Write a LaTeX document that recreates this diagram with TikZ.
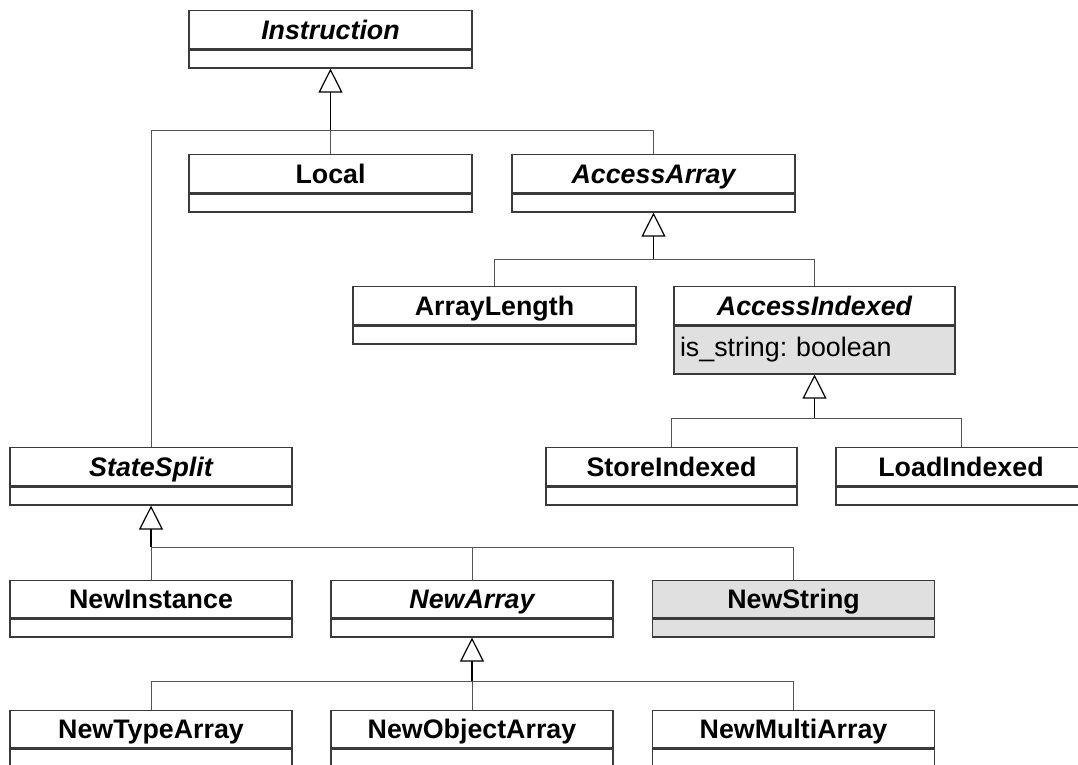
\documentclass[tikz,border=0pt]{standalone}
\usepackage{fontspec}
\setmainfont{Liberation Sans}
\usetikzlibrary{positioning,arrows.meta}
\definecolor{boxline}{HTML}{3A3A3A}
\definecolor{boxgray}{HTML}{E0E0E0}
\definecolor{wire}{HTML}{555555}
\begin{document}
\begin{tikzpicture}[x=1pt,y=-1pt,
  cls/.style={draw=boxline,line width=1.3pt,fill=white,anchor=north,inner sep=0pt,
    text height=19pt,text depth=0pt,
    minimum width=283pt,minimum height=38pt,font=\fontsize{26.8}{30}\selectfont\bfseries},
  abs/.style={cls,font=\fontsize{26.8}{30}\selectfont\bfseries\itshape},
  comp/.style={draw=boxline,line width=1.3pt,fill=white,inner sep=0pt,
    minimum width=283pt,minimum height=18pt},
  branch/.style={draw=wire,line width=1pt},
  inh/.style={draw=black,line width=1.2pt,-{Triangle[open,length=24pt,width=24pt]}}]
\useasboundingbox (0,0) rectangle (1078,764);
\clip (0,0) rectangle (1078,764);

% classes
\node(instr) at (330.5,10)[abs]                              {Instruction};
\node(instr-a)[comp,below=0pt of instr]                     {};
\node(local) at (330.5,154)[cls]                             {Local};
\node(local-a)[comp,below=0pt of local]                     {};
\node(accarr) at (653.5,154)[abs]                            {AccessArray};
\node(accarr-a)[comp,below=0pt of accarr]                   {};
\node(arrlen) at (494.5,286)[cls]                            {ArrayLength};
\node(arrlen-a)[comp,below=0pt of arrlen]                   {};
\node(accidx) at (814.5,286)[abs,minimum width=281pt]        {AccessIndexed};
\node(accidx-a)[comp,below=0pt of accidx,fill=boxgray,minimum width=281pt,minimum height=48pt,
  text width=269pt,inner sep=6pt,align=left,font=\fontsize{26.8}{30}\selectfont\frenchspacing] {is\_string: boolean};
\node(statesplit) at (151,447)[abs,minimum width=282pt]      {StateSplit};
\node(statesplit-a)[comp,below=0pt of statesplit,minimum width=282pt] {};
\node(storeidx) at (671.5,447)[cls,minimum width=251pt]      {StoreIndexed};
\node(storeidx-a)[comp,below=0pt of storeidx,minimum width=251pt] {};
\node(loadidx) at (961,447)[cls,minimum width=250pt]         {LoadIndexed};
\node(loadidx-a)[comp,below=0pt of loadidx,minimum width=250pt] {};
\node(newinst) at (151,580)[cls,minimum width=282pt,minimum height=37pt] {NewInstance};
\node(newinst-a)[comp,below=0pt of newinst,minimum width=282pt] {};
\node(newarr) at (472,580)[abs,minimum width=282pt,minimum height=37pt]  {NewArray};
\node(newarr-a)[comp,below=0pt of newarr,minimum width=282pt] {};
\node(newstr) at (793.5,580)[cls,fill=boxgray,minimum width=282pt,minimum height=37pt] {NewString};
\node(newstr-a)[comp,below=0pt of newstr,fill=boxgray,minimum width=282pt] {};
\node(newtype) at (151,710)[cls,minimum width=282pt,minimum height=37pt] {NewTypeArray};
\node(newtype-a)[comp,below=0pt of newtype,minimum width=282pt,minimum height=30pt] {};
\node(newobj) at (472,710)[cls,minimum width=282pt,minimum height=37pt]  {NewObjectArray};
\node(newobj-a)[comp,below=0pt of newobj,minimum width=282pt,minimum height=30pt] {};
\node(newmulti) at (793.5,710)[cls,minimum width=282pt,minimum height=37pt] {NewMultiArray};
\node(newmulti-a)[comp,below=0pt of newmulti,minimum width=282pt,minimum height=30pt] {};

% junctions
\coordinate(j1) at (330.5,130);
\coordinate(j2) at (653.5,259);
\coordinate(j3) at (814.5,418);
\coordinate(j4) at (151,547);
\coordinate(j5) at (472,681);

% generalisations
\path[branch] (statesplit.north) |- (j1) (accarr.north) |- (j1) (local.north) -- (j1);
\draw[inh] (j1) -- (instr-a.south);
\path[branch] (arrlen.north) |- (j2) (accidx.north) |- (j2);
\draw[inh] (j2) -- (accarr-a.south);
\path[branch] (storeidx.north) |- (j3) (loadidx.north) |- (j3);
\draw[inh] (j3) -- (accidx-a.south);
\path[branch] (newinst.north) -- (j4) (newarr.north) |- (j4) (newstr.north) |- (j4);
\draw[inh] (j4) -- (statesplit-a.south);
\path[branch] (newtype.north) |- (j5) (newmulti.north) |- (j5) (newobj.north) -- (j5);
\draw[inh] (j5) -- (newarr-a.south);
\end{tikzpicture}
\end{document}
